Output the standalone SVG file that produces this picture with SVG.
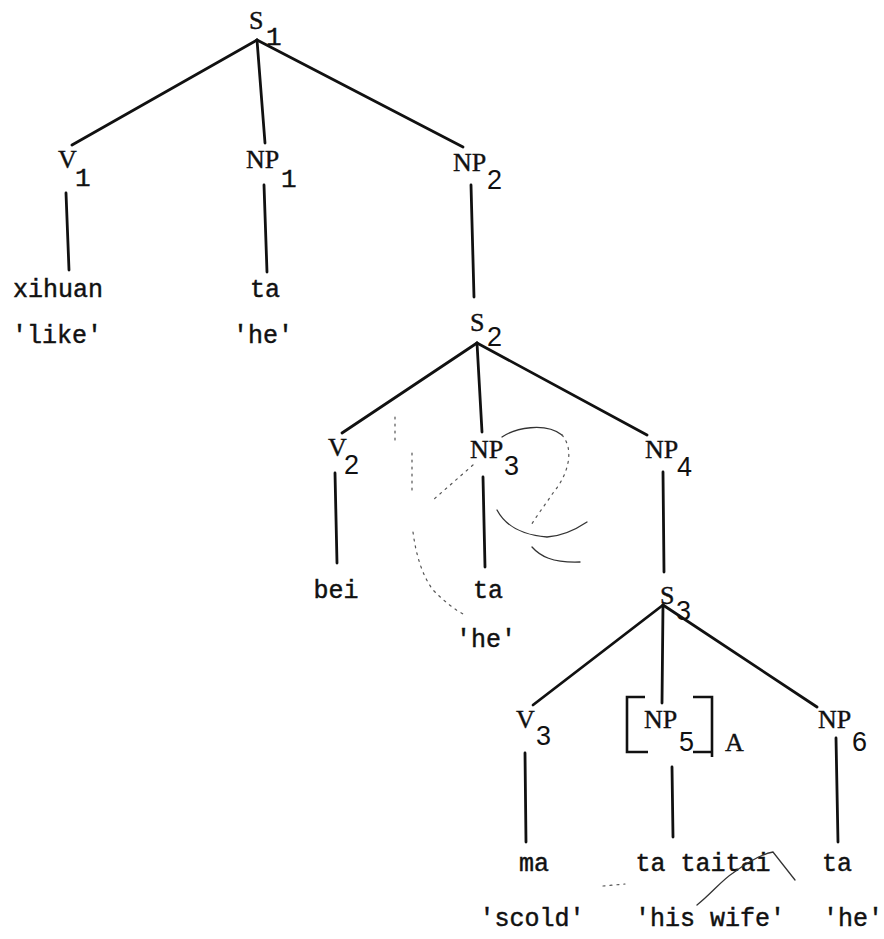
<svg xmlns="http://www.w3.org/2000/svg" width="884" height="939" viewBox="0 0 884 939">
<style>
.lab{font-family:"Liberation Serif","Times New Roman",serif;font-size:26px;fill:#111;stroke:#111;stroke-width:0.4}
.sub{font-family:"Liberation Sans",Arial,sans-serif;font-size:27px;fill:#111}
.sub1{font-family:"Liberation Mono","Courier New",monospace;font-size:26px;fill:#111;stroke:#111;stroke-width:0.4}
.w{font-family:"Liberation Mono","Courier New",monospace;font-size:25px;fill:#111;stroke:#111;stroke-width:0.45;text-anchor:middle}
.e{stroke:#111;stroke-width:2.8;fill:none;stroke-linecap:round}
.br{stroke:#111;stroke-width:2.6;fill:none}
.mk{stroke:#333;stroke-width:1.3;fill:none;stroke-linecap:round}
.dm{stroke:#555;stroke-width:1.2;fill:none;stroke-dasharray:2 5;stroke-linecap:round}
</style>
<rect width="884" height="939" fill="#fff"/>
<g id="connectors">
<line class="e" x1="257" y1="40" x2="72" y2="145"/>
<line class="e" x1="257" y1="40" x2="265" y2="143"/>
<line class="e" x1="257" y1="40" x2="463" y2="147"/>
<line class="e" x1="66" y1="193" x2="69" y2="270"/>
<line class="e" x1="264" y1="185" x2="267" y2="272"/>
<line class="e" x1="471" y1="185" x2="474" y2="297"/>
<line class="e" x1="477" y1="343" x2="342" y2="433"/>
<line class="e" x1="477" y1="343" x2="482" y2="432"/>
<line class="e" x1="477" y1="343" x2="647" y2="435"/>
<line class="e" x1="335" y1="473" x2="337" y2="563"/>
<line class="e" x1="483" y1="477" x2="485" y2="567"/>
<line class="e" x1="663" y1="472" x2="664" y2="572"/>
<line class="e" x1="663" y1="605" x2="533" y2="705"/>
<line class="e" x1="663" y1="605" x2="662" y2="703"/>
<line class="e" x1="663" y1="605" x2="817" y2="707"/>
<line class="e" x1="525" y1="753" x2="526" y2="842"/>
<line class="e" x1="672" y1="767" x2="673" y2="837"/>
<line class="e" x1="836" y1="738" x2="838" y2="842"/>
</g>
<g id="S1"><text class="lab" x="249" y="29">S</text><text class="sub1" x="266" y="45">1</text></g>
<g id="V1"><text class="lab" x="58" y="168">V</text><text class="sub1" x="75" y="186">1</text></g>
<g id="NP1"><text class="lab" x="246" y="168">NP</text><text class="sub1" x="281" y="187">1</text></g>
<g id="NP2"><text class="lab" x="453" y="171">NP</text><text class="sub" x="487" y="189">2</text></g>
<g id="xihuan"><text class="w" x="58" y="297">xihuan</text><text class="w" x="57" y="343">'like'</text></g>
<g id="ta1"><text class="w" x="265" y="297">ta</text><text class="w" x="263" y="343">'he'</text></g>
<g id="S2"><text class="lab" x="470" y="331">S</text><text class="sub" x="487" y="346">2</text></g>
<g id="V2"><text class="lab" x="328" y="456">V</text><text class="sub" x="344" y="474">2</text></g>
<g id="NP3"><text class="lab" x="470" y="458">NP</text><text class="sub" x="504" y="475">3</text></g>
<g id="NP4"><text class="lab" x="645" y="458">NP</text><text class="sub" x="677" y="476">4</text></g>
<g id="bei"><text class="w" x="336" y="598">bei</text></g>
<g id="ta2"><text class="w" x="488" y="598">ta</text><text class="w" x="486" y="647">'he'</text></g>
<g id="S3"><text class="lab" x="660" y="604">S</text><text class="sub" x="676" y="620">3</text></g>
<g id="V3"><text class="lab" x="516" y="728">V</text><text class="sub" x="536" y="745">3</text></g>
<g id="NP5">
<path class="br" d="M645,697 H627 V752 H648"/>
<path class="br" d="M693,697 H712 V757 M693,752 H712"/>
<text class="lab" x="644" y="728">NP</text><text class="sub" x="679" y="751">5</text>
<text class="lab" x="725" y="751">A</text>
</g>
<g id="NP6"><text class="lab" x="818" y="728">NP</text><text class="sub" x="852" y="751">6</text></g>
<g id="ma"><text class="w" x="534" y="871">ma</text><text class="w" x="532" y="926">'scold'</text></g>
<g id="tataitai"><text class="w" x="703" y="871">ta taitai</text><text class="w" x="710" y="926">'his wife'</text></g>
<g id="ta3"><text class="w" x="837" y="871">ta</text><text class="w" x="853" y="926">'he'</text></g>
<g id="marks">
<path class="mk" d="M502,437 C515,428 545,422 562,435"/>
<path class="dm" d="M562,435 C575,450 568,475 553,493 C545,505 535,518 530,527"/>
<path class="mk" d="M497,510 C505,525 520,535 547,537 C565,536 578,528 587,522"/>
<path class="mk" d="M532,547 C540,556 552,563 580,562"/>
<path class="dm" d="M473,465 L433,500"/>
<path class="dm" d="M395,417 L395,445 M412,453 L412,493 M413,532 C416,555 422,575 433,590 C445,602 455,610 465,615"/>
<path class="mk" d="M697,905 C712,893 722,880 733,873 C748,862 762,854 773,852 L795,880"/>
<path class="dm" d="M603,886 L625,884"/>
</g>
</svg>
